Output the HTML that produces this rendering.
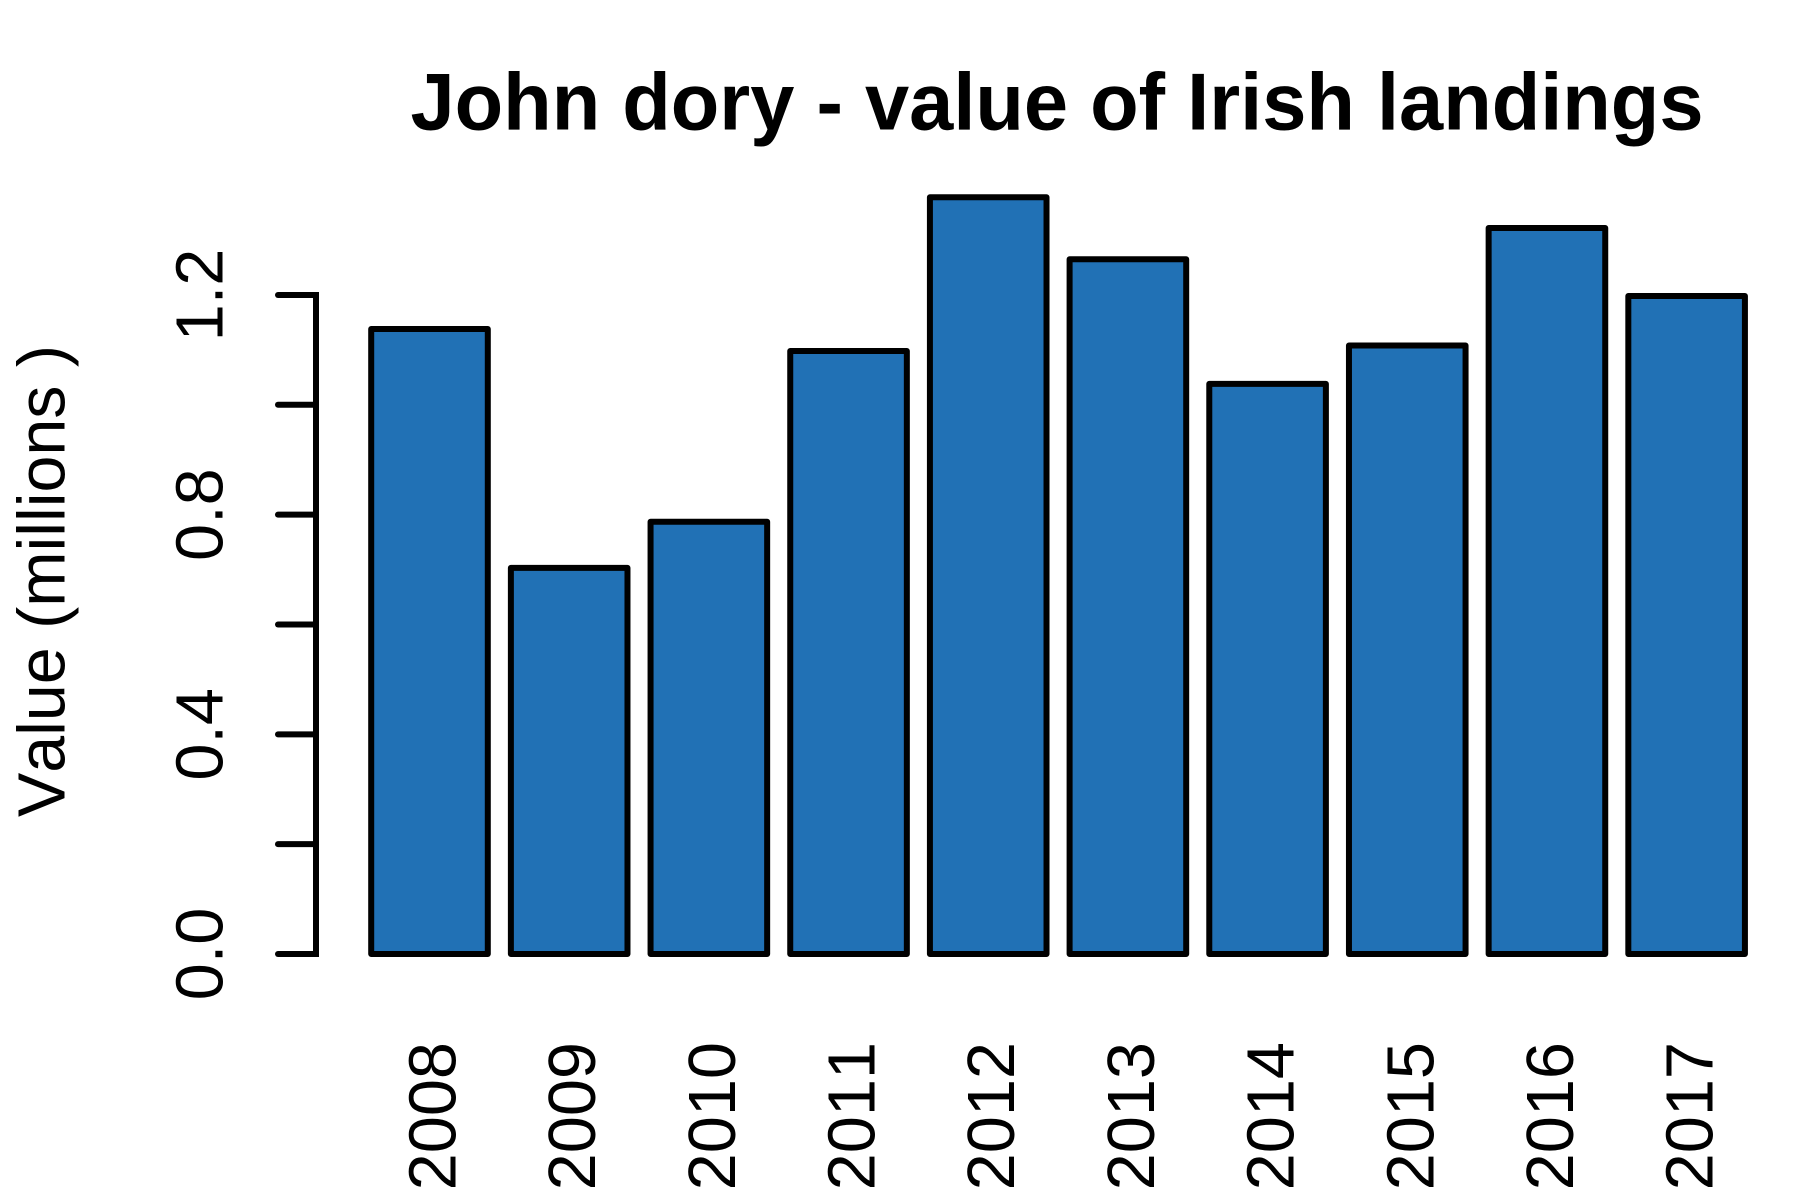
<!DOCTYPE html>
<html lang="en">
<head>
<meta charset="utf-8">
<title>John dory - value of Irish landings</title>
<style>
  html, body { margin: 0; padding: 0; background: #ffffff; }
  body { width: 1800px; height: 1200px; overflow: hidden; }
  svg { display: block; }
  text { font-family: "Liberation Sans", Arial, sans-serif; fill: #000000; font-kerning: none; }
</style>
</head>
<body>
<svg id="chart" xmlns="http://www.w3.org/2000/svg" width="1800" height="1200" viewBox="0 0 1800 1200">
  <rect x="0" y="0" width="1800" height="1200" fill="#ffffff"></rect>
  <text x="1057" y="129.5" font-size="80.6" font-weight="700" text-anchor="middle" textLength="1293" lengthAdjust="spacingAndGlyphs">John dory - value of Irish landings</text>
  <text transform="translate(64.7 581) rotate(-90)" font-size="66.7" text-anchor="middle" textLength="472" lengthAdjust="spacingAndGlyphs">Value (millions )</text>
</svg>
<script>
const categories = ["2008", "2009", "2010", "2011", "2012", "2013", "2014", "2015", "2016", "2017"];
const seriesValues = [1.138, 0.703, 0.787, 1.098, 1.378, 1.265, 1.038, 1.108, 1.322, 1.198];
const yTicks = [0, 0.2, 0.4, 0.6, 0.8, 1.0, 1.2];
const yTickLabels = ["0.0", "", "0.4", "", "0.8", "", "1.2"];

const svgNS = "http://www.w3.org/2000/svg";
const svg = document.getElementById("chart");
const STROKE = 6;
const FILL = "#2171b5";

function yScale(v) { return 954 - 549.2 * v; }
function barLeft(i) { return 371.2 + 139.68 * i; }
const barWidth = 116.6;
function barCenter(i) { return barLeft(i) + barWidth / 2; }

function make(tag, attrs) {
  const el = document.createElementNS(svgNS, tag);
  Object.keys(attrs).forEach(function (k) { el.setAttribute(k, attrs[k]); });
  return el;
}

seriesValues.forEach(function (v, i) {
  const top = yScale(v);
  const bar = make("rect", {
    x: barLeft(i), y: top, width: barWidth, height: yScale(0) - top,
    fill: FILL, stroke: "#000000", "stroke-width": STROKE, "stroke-linejoin": "round"
  });
  
  
  svg.appendChild(bar);

  const cx = barCenter(i) + 26;
  const label = make("text", {
    transform: "translate(" + cx + " 1042) rotate(-90)",
    "font-size": 66.7, "text-anchor": "end"
  });
  label.textContent = categories[i];
  
  
  svg.appendChild(label);
});

const axisX = 316;
const tickX = 278;
const axisLine = make("line", {
  x1: axisX, x2: axisX,
  y1: yScale(yTicks[0]), y2: yScale(yTicks[yTicks.length - 1]),
  stroke: "#000000", "stroke-width": STROKE, "stroke-linecap": "square"
});


svg.appendChild(axisLine);

yTicks.forEach(function (t, i) {
  const y = yScale(t);
  const tick = make("line", {
    x1: tickX, x2: axisX, y1: y, y2: y,
    stroke: "#000000", "stroke-width": STROKE, "stroke-linecap": "round"
  });
  
  
  svg.appendChild(tick);

  if (yTickLabels[i]) {
    const label = make("text", {
      transform: "translate(222.3 " + y + ") rotate(-90)",
      "font-size": 66.7, "text-anchor": "middle"
    });
    label.textContent = yTickLabels[i];
    
    
    svg.appendChild(label);
  }
});
</script>
</body>
</html>
